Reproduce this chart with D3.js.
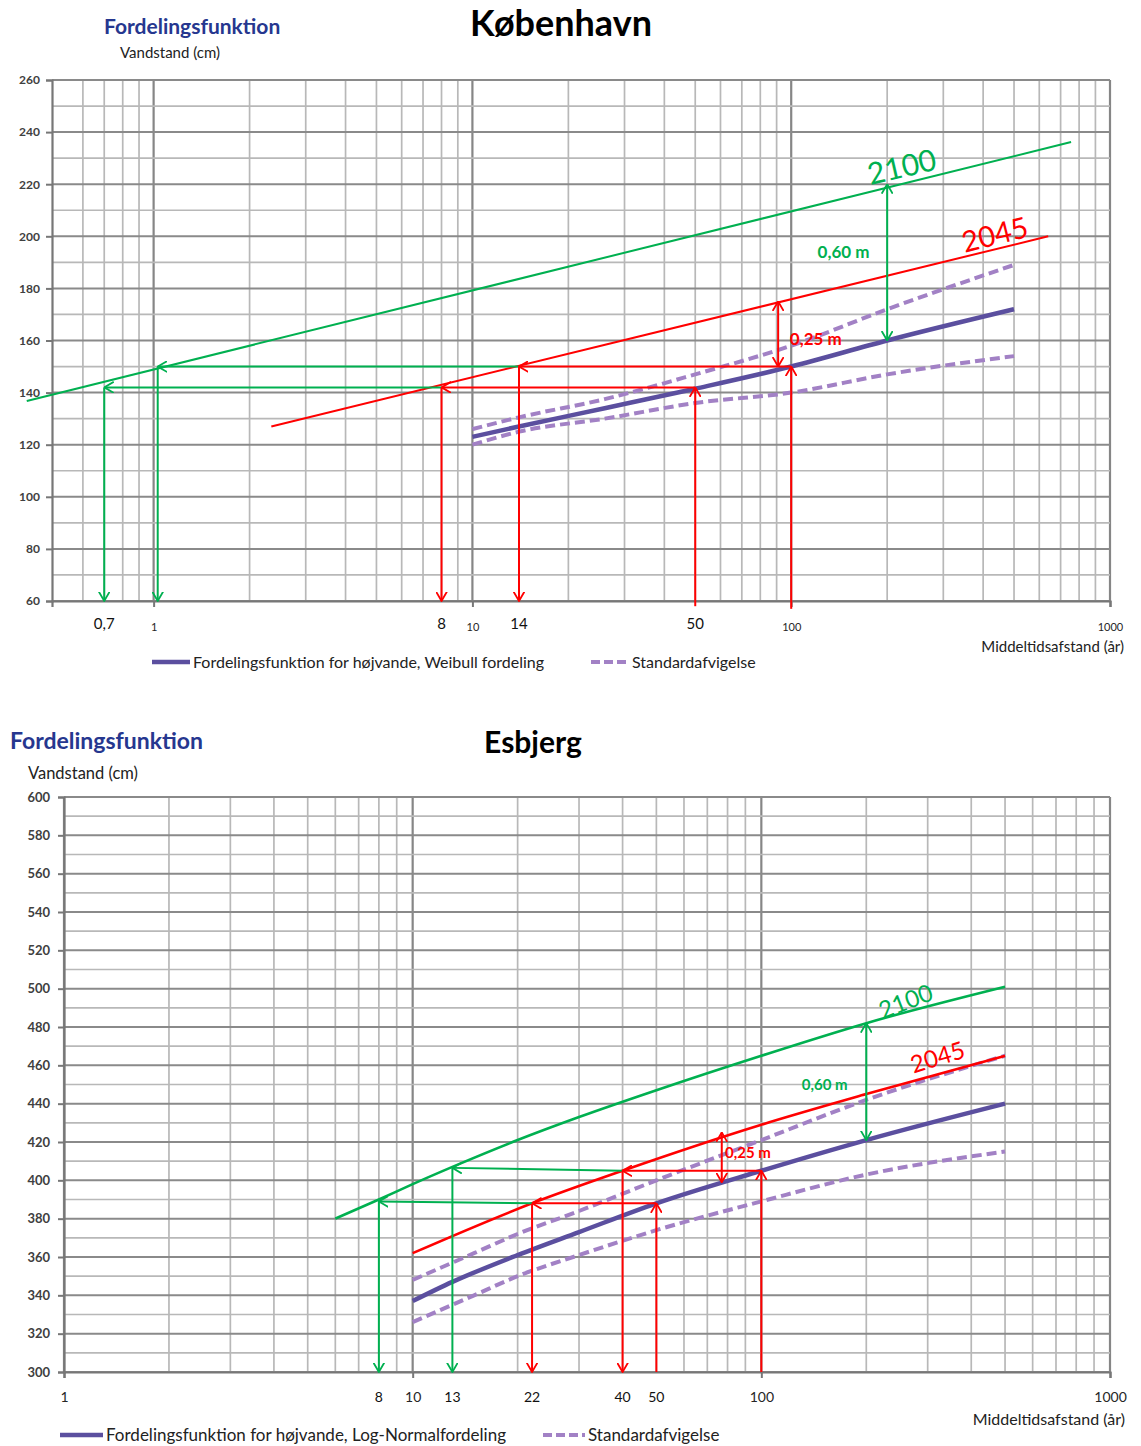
<!DOCTYPE html>
<html>
<head>
<meta charset="utf-8">
<script src="https://cdn.jsdelivr.net/npm/d3@7"></script>
<style>
body { margin: 0; background: #fff; }
svg text { font-family: Lato, "Open Sans", sans-serif; }
</style>
</head>
<body>
<div id="chart"></div>
<script>
// ---- København: return period (år) -> water level (cm)
var kbhWeibull  = [[10,123],[14,127],[26,134],[50,141.5],[100,150],[200,160],[500,172]];
var kbhStdUpper = [[10,126],[14,130.5],[26,137.5],[50,147],[100,158],[200,172],[500,189]];
var kbhStdLower = [[10,120],[14,125],[26,130],[50,136],[100,140],[200,147],[500,154]];
var kbh2045 = [[2.34,127],[640,200]];
var kbh2100 = [[0.4,136.8],[755,236.2]];
var kbhYTicks = d3.range(60, 261, 20);
var kbhXTicks = [1, 10, 100, 1000];
var kbhXMarks = [0.7, 8, 14, 50];
// reading arrows, [from, to], head at "to"
var kbhRedArrows = [
  [[100,150],[14,150]], [[50,142],[8,142]],
  [[14,150],[14,60]], [[8,142],[8,60]],
  [[50,58],[50,142]], [[100,57],[100,150]]
];
var kbhGreenArrows = [
  [[14,150],[1.03,150]], [[8,142],[0.7,142]],
  [[1.03,150],[1.03,60]], [[0.7,142],[0.7,60]]
];
var kbhRedSpan = [[91,150],[91,175]];
var kbhGreenSpan = [[200,160],[200,220]];
var kbhLabels = [
  {text: "2100", x: 177, y: 219.7},
  {text: "2045", x: 350, y: 193.7},
  {text: "0,60 m", x: 121, y: 191.7},
  {text: "0,25 m", x: 99, y: 158.3}
];

// ---- Esbjerg
var esbLogNormal = [[10,337],[13,347],[20,361],[30,373],[50,388],[100,405],[200,421],[500,440]];
var esbStdUpper  = [[10,348],[15,362],[20,372],[30,384],[50,400],[100,421],[200,442],[500,465]];
var esbStdLower  = [[10,326],[15,340],[20,350],[30,361],[50,374],[100,389],[200,403],[500,415]];
var esb2045 = [[10,362],[22,388],[40,405],[100,429],[200,445],[500,465]];
var esb2100 = [[6,380],[8,390],[10,398],[13,407],[20,421],[30,433],[50,447],[100,465],[200,482],[500,501]];
var esbYTicks = d3.range(300, 601, 20);
var esbXTicks = [1, 10, 100, 1000];
var esbXMarks = [8, 13, 22, 40, 50];
var esbRedArrows = [
  [[100,405],[40,405]], [[50,388],[22,388]],
  [[40,405],[40,300]], [[22,388],[22,300]],
  [[50,300],[50,388]], [[100,300],[100,405]]
];
var esbGreenArrows = [
  [[40,405],[13,406.5]], [[22,388],[8,389]],
  [[13,406.5],[13,300]], [[8,389],[8,300]]
];
var esbRedSpan = [[77,399],[77,425]];
var esbGreenSpan = [[200,421],[200,482]];
var esbLabels = [
  {text: "2100", x: 223, y: 484},
  {text: "2045", x: 273, y: 455.8},
  {text: "0,60 m", x: 130.6, y: 447},
  {text: "0,25 m", x: 78.7, y: 411.6}
];

var GREEN = "#00b050", RED = "#ff0000", BLUE = "#5b4f9f", LILAC = "#a281c5";

var svg = d3.select("#chart").append("svg")
    .attr("width", 1141).attr("height", 1446);

var defs = svg.append("defs");
[["red", RED], ["green", GREEN]].forEach(function(m) {
  defs.append("marker")
      .attr("id", "head-" + m[0])
      .attr("viewBox", "0 0 10 12")
      .attr("refX", 9.5).attr("refY", 6)
      .attr("markerWidth", 10).attr("markerHeight", 12)
      .attr("markerUnits", "userSpaceOnUse")
      .attr("orient", "auto-start-reverse")
    .append("path")
      .attr("d", "M0,0.5 L9.5,6 L0,11.5")
      .attr("fill", "none")
      .attr("stroke", m[1])
      .attr("stroke-width", 1.8);
});

function fmt(d) { return String(d).replace(".", ","); }

function drawChart(c) {
  var x = d3.scaleLog().domain(c.xDomain).range([c.left, c.right]);
  var y = d3.scaleLinear().domain(c.yDomain).range([c.bottom, c.top]);
  var g = svg.append("g");

  // grid
  var isDecade = function(d) { var l = Math.log10(d); return Math.abs(l - Math.round(l)) < 1e-6; };
  var xs = x.ticks().filter(function(d) { return d > c.gridFrom; });
  g.append("g").selectAll("line").data(xs).enter().append("line")
      .attr("x1", function(d) { return x(d); }).attr("x2", function(d) { return x(d); })
      .attr("y1", y(c.yDomain[0])).attr("y2", y(c.yDomain[1]))
      .attr("stroke", function(d) { return isDecade(d) ? "#868686" : "#b8b8b8"; })
      .attr("stroke-width", function(d) { return isDecade(d) ? 2.2 : 1.7; });
  var ys = d3.range(c.yDomain[0], c.yDomain[1] + 1, 10);
  g.append("g").selectAll("line").data(ys).enter().append("line")
      .attr("x1", x(c.xDomain[0])).attr("x2", x(c.xDomain[1]))
      .attr("y1", function(d) { return y(d); }).attr("y2", function(d) { return y(d); })
      .attr("stroke", function(d) { return d % 20 === 0 ? "#8a8a8a" : "#b8b8b8"; })
      .attr("stroke-width", function(d) { return d % 20 === 0 ? 2 : 1.7; });

  // axes
  var ya = g.append("g").attr("transform", "translate(" + c.left + ",0)")
      .call(d3.axisLeft(y).tickValues(c.yTicks).tickSize(6).tickPadding(c.yPad));
  var xa = g.append("g").attr("transform", "translate(0," + c.bottom + ")")
      .call(d3.axisBottom(x).tickValues(c.xTicks).tickSize(6).tickFormat(fmt).tickPadding(c.xPad));
  [ya, xa].forEach(function(a) {
    a.select(".domain").attr("stroke", "#777").attr("stroke-width", 2.2);
    a.selectAll(".tick line").attr("stroke", "#777").attr("stroke-width", 2);
  });
  ya.selectAll(".tick text").attr("font-size", c.yFont).attr("font-weight", "bold").attr("fill", "#404040");
  xa.selectAll(".tick text").attr("font-size", c.xFont).attr("fill", "#262626")
      .attr("font-family", "Lato, sans-serif");

  g.append("g").selectAll("text").data(c.xMarks).enter().append("text")
      .attr("x", function(d) { return x(d); })
      .attr("y", c.bottom + c.markDy)
      .attr("text-anchor", "middle")
      .attr("font-size", c.markFont)
      .attr("fill", "#111")
      .text(fmt);

  // series
  var line = d3.line().x(function(d) { return x(d[0]); }).y(function(d) { return y(d[1]); })
      .curve(d3.curveMonotoneX);
  var ln = d3.line().x(function(d) { return x(d[0]); }).y(function(d) { return y(d[1]); });

  [c.lower, c.upper].forEach(function(s) {
    g.append("path").datum(s).attr("d", line).attr("fill", "none")
        .attr("stroke", LILAC).attr("stroke-width", 4).attr("stroke-dasharray", "10,5");
  });
  g.append("path").datum(c.main).attr("d", line).attr("fill", "none")
      .attr("stroke", BLUE).attr("stroke-width", 4.5);
  g.append("path").datum(c.s2045).attr("d", line).attr("fill", "none")
      .attr("stroke", RED).attr("stroke-width", c.sw);
  g.append("path").datum(c.s2100).attr("d", line).attr("fill", "none")
      .attr("stroke", GREEN).attr("stroke-width", c.sw);

  // reading arrows
  [[c.greenArrows, GREEN, "green"], [c.redArrows, RED, "red"]].forEach(function(a) {
    g.append("g").selectAll("path").data(a[0]).enter().append("path")
        .attr("d", ln).attr("fill", "none")
        .attr("stroke", a[1]).attr("stroke-width", 2)
        .attr("marker-end", "url(#head-" + a[2] + ")");
  });
  [[c.redSpan, RED, "red"], [c.greenSpan, GREEN, "green"]].forEach(function(a) {
    g.append("path").datum(a[0]).attr("d", ln).attr("fill", "none")
        .attr("stroke", a[1]).attr("stroke-width", 2)
        .attr("marker-start", "url(#head-" + a[2] + ")")
        .attr("marker-end", "url(#head-" + a[2] + ")");
  });

  // labels
  c.labels.forEach(function(l, i) {
    var st = c.labelStyle[i];
    g.append("text")
        .attr("transform", "translate(" + x(l.x) + "," + y(l.y) + ") rotate(" + st.rot + ")")
        .attr("font-size", st.size)
        .attr("font-weight", st.bold ? "bold" : "normal")
        .attr("fill", st.color)
        .text(l.text);
  });

  // titles
  g.append("text").attr("x", c.subX).attr("y", c.subY)
      .attr("font-size", c.subFont).attr("font-weight", "bold").attr("fill", "#26378f")
      .attr("font-family", "'Open Sans', sans-serif")
      .text("Fordelingsfunktion");
  g.append("text").attr("x", c.titleX).attr("y", c.titleY).attr("text-anchor", "middle")
      .attr("font-size", c.titleFont).attr("font-weight", "bold").attr("fill", "#000")
      .text(c.title);
  g.append("text").attr("x", c.yLabX).attr("y", c.yLabY)
      .attr("font-size", c.yLabFont).attr("fill", "#222")
      .text("Vandstand (cm)");
  g.append("text").attr("x", c.xLabX).attr("y", c.xLabY).attr("text-anchor", "end")
      .attr("font-size", c.xLabFont).attr("fill", "#222")
      .text("Middeltidsafstand (år)");

  // legend
  var lg = g.append("g").attr("transform", "translate(0," + c.legY + ")");
  lg.append("line").attr("x1", c.leg1[0]).attr("x2", c.leg1[1]).attr("y1", 0).attr("y2", 0)
      .attr("stroke", BLUE).attr("stroke-width", 4.5);
  lg.append("text").attr("x", c.leg1[1] + 3).attr("y", 0).attr("dy", "0.35em")
      .attr("font-size", c.legFont).attr("fill", "#222").text(c.legText);
  lg.append("line").attr("x1", c.leg2[0]).attr("x2", c.leg2[1]).attr("y1", 0).attr("y2", 0)
      .attr("stroke", LILAC).attr("stroke-width", 4).attr("stroke-dasharray", "9,4");
  lg.append("text").attr("x", c.leg2[1] + 3).attr("y", 0).attr("dy", "0.35em")
      .attr("font-size", c.legFont).attr("fill", "#222").text("Standardafvigelse");
}

drawChart({
  left: 52, right: 1110, top: 80, bottom: 601,
  xDomain: [0.48, 1000], yDomain: [60, 260], gridFrom: 0.55,
  yTicks: kbhYTicks, xTicks: kbhXTicks, xMarks: kbhXMarks,
  yPad: 6, yFont: 12, xPad: 16, xFont: 11, markDy: 28, markFont: 15,
  main: kbhWeibull, upper: kbhStdUpper, lower: kbhStdLower,
  s2045: kbh2045, s2100: kbh2100, sw: 2,
  redArrows: kbhRedArrows, greenArrows: kbhGreenArrows,
  redSpan: kbhRedSpan, greenSpan: kbhGreenSpan,
  labels: kbhLabels,
  labelStyle: [
    {rot: -13, size: 30, color: GREEN},
    {rot: -14, size: 29, color: RED},
    {rot: 0, size: 17, color: GREEN, bold: true},
    {rot: 0, size: 17, color: RED, bold: true}
  ],
  title: "København", titleX: 561, titleY: 36, titleFont: 36,
  subX: 104, subY: 34, subFont: 21,
  yLabX: 120, yLabY: 58, yLabFont: 15,
  xLabX: 1124, xLabY: 652, xLabFont: 15,
  legY: 662, leg1: [152, 190], leg2: [591, 629], legFont: 16,
  legText: "Fordelingsfunktion for højvande, Weibull fordeling"
});

drawChart({
  left: 64, right: 1110, top: 797, bottom: 1372,
  xDomain: [1, 1000], yDomain: [300, 600], gridFrom: 0.9,
  yTicks: esbYTicks, xTicks: esbXTicks, xMarks: esbXMarks,
  yPad: 8, yFont: 13, xPad: 14, xFont: 14, markDy: 30, markFont: 14,
  main: esbLogNormal, upper: esbStdUpper, lower: esbStdLower,
  s2045: esb2045, s2100: esb2100, sw: 2.6,
  redArrows: esbRedArrows, greenArrows: esbGreenArrows,
  redSpan: esbRedSpan, greenSpan: esbGreenSpan,
  labels: esbLabels,
  labelStyle: [
    {rot: -21, size: 24, color: GREEN},
    {rot: -17, size: 24, color: RED},
    {rot: 0, size: 15, color: GREEN, bold: true},
    {rot: 0, size: 15, color: RED, bold: true}
  ],
  title: "Esbjerg", titleX: 533, titleY: 753, titleFont: 30,
  subX: 10, subY: 749, subFont: 23,
  yLabX: 28, yLabY: 779, yLabFont: 16.5,
  xLabX: 1125, xLabY: 1425, xLabFont: 16,
  legY: 1435, leg1: [60, 103], leg2: [543, 585], legFont: 17,
  legText: "Fordelingsfunktion for højvande, Log-Normalfordeling"
});
</script>
</body>
</html>
